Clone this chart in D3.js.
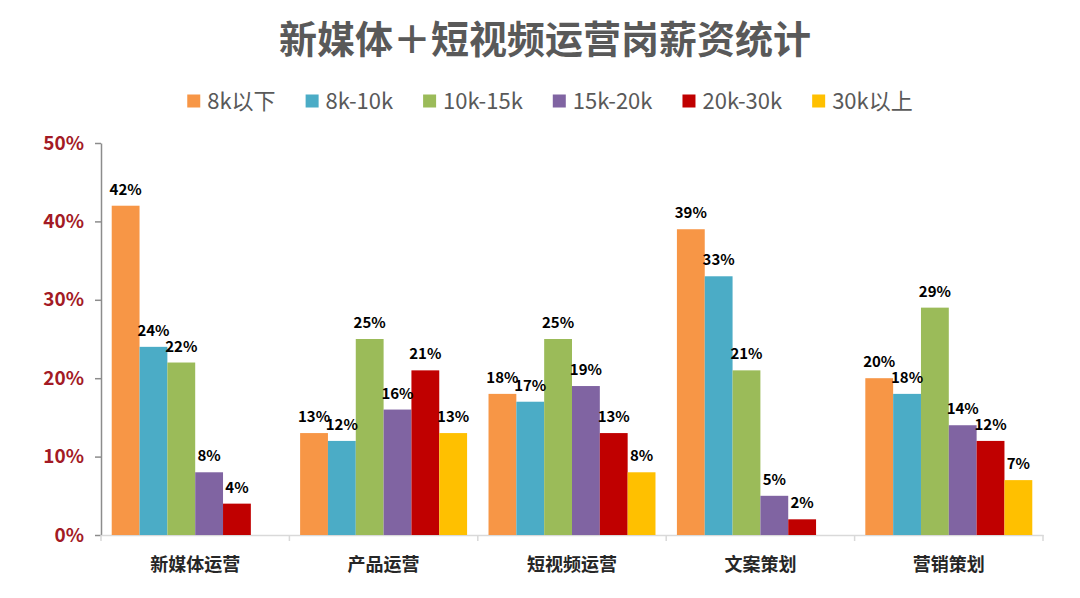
<!DOCTYPE html>
<html>
<head>
<meta charset="utf-8">
<script src="https://cdn.jsdelivr.net/npm/d3@7"></script>
<style>
body{margin:0;background:#fff;}
text{font-family:"Noto Sans CJK SC","Noto Sans",sans-serif;}
</style>
</head>
<body>
<div class="bar-chart"></div>
<script>
// 類別與薪資區間
const categories = ['新媒体运营','产品运营','短视频运营','文案策划','营销策划'];
const salaryLevels = ['8k以下','8k-10k','10k-15k','15k-20k','20k-30k','30k以上'];
const levelColors = ['#f79646','#4bacc6','#9bbb59','#8064a2','#c00000','#ffc000'];

// 各薪資區間的百分比 (依 categories 順序), null = 沒有這一條
const below8k = [42,13,18,39,20];
const k8to10 = [24,12,17,33,18];
const k10to15 = [22,25,25,21,29];
const k15to20 = [8,16,19,5,14];
const k20to30 = [4,21,13,2,12];
const above30k = [null,13,8,null,7];
const seriesValues = [below8k,k8to10,k10to15,k15to20,k20to30,above30k];

const yTicks = [0,10,20,30,40,50];

// 建立svg繪圖空間
const svg_width = 1080;
const svg_height = 598;
const chart = {left:101,right:1043,top:143,bottom:535};

const svg = d3.select('.bar-chart').append('svg')
    .attr('width',svg_width).attr('height',svg_height);

// 攤平成一筆一筆的bar資料
const barData = [];
categories.forEach((c,ci)=>{
    salaryLevels.forEach((s,si)=>{
        const v = seriesValues[si][ci];
        if(v !== null) barData.push({category:c, level:s, value:v, color:levelColors[si]});
    });
});

// scales
const x0 = d3.scaleBand().domain(categories).range([chart.left,chart.right]);
const x1 = d3.scaleBand().domain(salaryLevels)
    .range([0,x0.bandwidth()]).paddingInner(0).paddingOuter(0.385);
const y = d3.scaleLinear().domain([0,50]).range([chart.bottom,chart.top]);

// 標題
svg.append('text')
    .attr('x',545).attr('y',53)
    .attr('text-anchor','middle')
    .style('font-size','38px').style('font-weight','bold')
    .style('fill','#595959')
    .text('新媒体＋短视频运营岗薪资统计');

// 圖例
const legend = svg.append('g').attr('class','legend');
const items = legend.selectAll('g').data(salaryLevels).join('g');
items.append('rect')
    .attr('width',13).attr('height',13).attr('y',-6.5)
    .attr('fill',(d,i)=>levelColors[i]);
items.append('text')
    .attr('x',20).attr('dy','0.35em')
    .style('font-size','22px').style('fill','#595959')
    .text(d=>d);
// 量文字寬度後排開並置中
const legendGap = 30;
let lx = 0;
items.each(function(){
    const w = 20 + d3.select(this).select('text').node().getComputedTextLength();
    d3.select(this).attr('transform',`translate(${lx},0)`);
    lx += w + legendGap;
});
lx -= legendGap;
legend.attr('transform',`translate(${550 - lx/2},101)`);

// y軸
const yAxis = d3.axisLeft(y).tickValues(yTicks).tickFormat(d=>d+'%')
    .tickSize(6).tickSizeOuter(0).tickPadding(11);
const yAxisDraw = svg.append('g')
    .attr('transform',`translate(${chart.left},0)`)
    .call(yAxis);
yAxisDraw.select('.domain').attr('stroke','#8c8c8c').attr('stroke-width',1.5);
yAxisDraw.selectAll('.tick line').attr('stroke','#8c8c8c').attr('stroke-width',1.5);
yAxisDraw.selectAll('text')
    .style('font-size','19px').style('font-weight','bold')
    .style('fill','#a31a25');

// x軸 (只放文字，線與分隔刻度自己畫)
const xAxis = d3.axisBottom(x0).tickSize(0).tickPadding(23);
const xAxisDraw = svg.append('g')
    .attr('transform',`translate(0,${chart.bottom})`)
    .call(xAxis);
xAxisDraw.select('.domain').attr('stroke','#d9d9d9').attr('stroke-width',1.5);
xAxisDraw.selectAll('text')
    .style('font-size','18px').style('font-weight','bold')
    .style('fill','#262626');

// 類別分隔刻度
const edges = categories.map(c=>x0(c)).concat([x0.range()[1]]);
xAxisDraw.selectAll('.sep').data(edges).join('line').attr('class','sep')
    .attr('x1',d=>d).attr('x2',d=>d)
    .attr('y1',0).attr('y2',6)
    .attr('stroke','#d9d9d9').attr('stroke-width',1.5);

// bars
const bars = svg.append('g').attr('class','bars');
bars.selectAll('rect').data(barData).join('rect')
    .attr('x',d=>x0(d.category)+x1(d.level))
    .attr('width',x1.bandwidth())
    .attr('y',d=>y(d.value))
    .attr('height',d=>y(0)-y(d.value))
    .attr('fill',d=>d.color);

// 數值標籤
bars.selectAll('.val').data(barData).join('text').attr('class','val')
    .attr('x',d=>x0(d.category)+x1(d.level)+x1.bandwidth()/2)
    .attr('y',d=>y(d.value)-11)
    .attr('text-anchor','middle')
    .style('font-size','15px').style('font-weight','bold')
    .style('fill','#000')
    .text(d=>d.value+'%');
</script>
</body>
</html>
